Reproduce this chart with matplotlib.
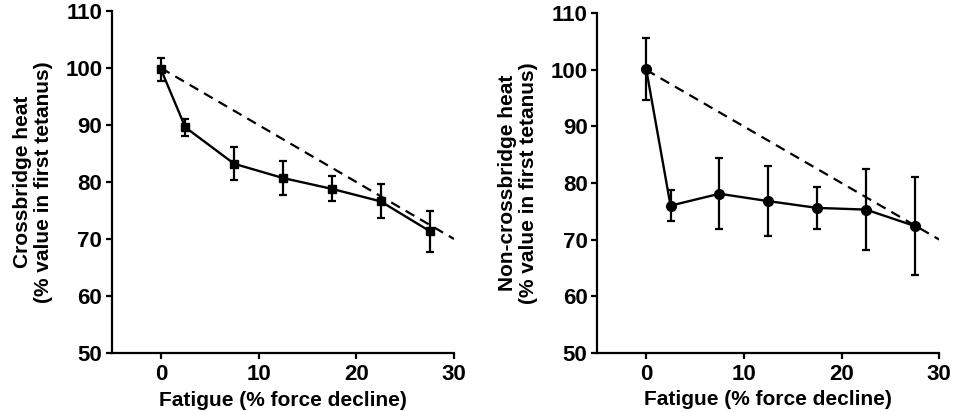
import matplotlib
matplotlib.use("Agg")
import matplotlib.pyplot as plt

plt.rcParams['font.family'] = ['Liberation Sans', 'DejaVu Sans']
plt.rcParams['font.weight'] = 'bold'
plt.rcParams['axes.labelweight'] = 'bold'

# Data
fatigue = [0, 2.5, 7.5, 12.5, 17.5, 22.5, 27.5]
cb_heat = [99.8, 89.6, 83.2, 80.7, 78.8, 76.6, 71.4]
cb_err = [2.0, 1.5, 2.9, 3.0, 2.2, 3.0, 3.6]
ncb_heat = [100.2, 76.0, 78.1, 76.8, 75.6, 75.3, 72.4]
ncb_err = [5.5, 2.7, 6.3, 6.2, 3.7, 7.1, 8.6]
ref_x = [0, 30]
ref_y = [100, 70]

x_ticks = [0, 10, 20, 30]
y_ticks = [50, 60, 70, 80, 90, 100, 110]

fig = plt.figure(figsize=(9.55, 4.12), dpi=100)
ax1 = fig.add_axes([0.1173, 0.1432, 0.3581, 0.830])
ax2 = fig.add_axes([0.6254, 0.1439, 0.3581, 0.8238])

panels = [
    (ax1, cb_heat, cb_err, 's', 5.8, 'Crossbridge heat\n(% value in first tetanus)'),
    (ax2, ncb_heat, ncb_err, 'o', 7, 'Non-crossbridge heat\n(% value in first tetanus)'),
]

for ax, y, e, m, ms, ylab in panels:
    ax.plot(ref_x, ref_y, color='black', lw=1.6, dashes=(4.5, 3))
    ax.errorbar(fatigue, y, yerr=e, color='black', lw=1.7, marker=m, ms=ms,
                capsize=3, capthick=1.6, elinewidth=1.6)
    ax.set_xlim(-5, 30)
    ax.set_ylim(50, 110)
    ax.set_xticks(x_ticks)
    ax.set_yticks(y_ticks)
    for s in ['top', 'right']:
        ax.spines[s].set_visible(False)
    for s in ['left', 'bottom']:
        ax.spines[s].set_linewidth(1.6)
    ax.tick_params(axis='y', direction='out', length=4, width=1.6, labelsize=16, pad=3)
    ax.tick_params(axis='x', direction='out', length=4, width=1.6, labelsize=16, pad=4)
    ax.set_xlabel('Fatigue (% force decline)', fontsize=15, labelpad=4, fontweight='bold')
    ax.set_ylabel(ylab, fontsize=15, labelpad=9, linespacing=1.12, fontweight='bold')

fig.savefig('out.png', dpi=100)
